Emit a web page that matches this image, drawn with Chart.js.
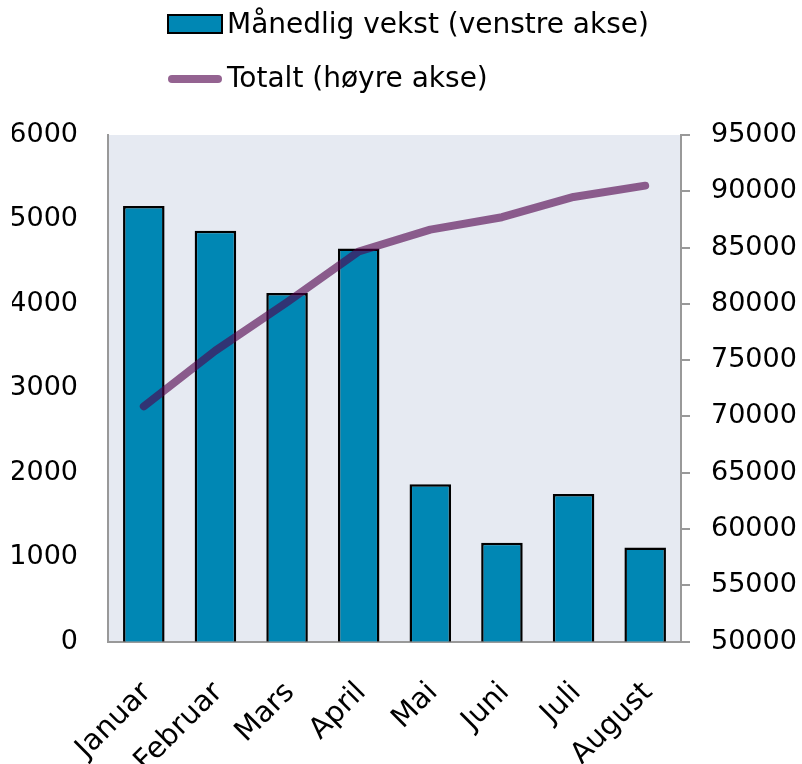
<!DOCTYPE html>
<html>
<head>
<meta charset="utf-8">
<script src="https://cdn.jsdelivr.net/npm/chart.js@4"></script>
<style>
  html, body { margin: 0; background: #fff; overflow: hidden; }
  #wrap { width: 802px; height: 813px; }
</style>
</head>
<body>
<div id="wrap"><canvas id="myChart"></canvas></div>
<script>
var months = ["Januar", "Februar", "Mars", "April", "Mai", "Juni", "Juli", "August"];
var vekst = [5160, 4865, 4130, 4655, 1865, 1170, 1750, 1115];          // venstre akse
var totalt = [70900, 75850, 80150, 84650, 86600, 87700, 89500, 90500];  // høyre akse
var vekstLabel = "Månedlig vekst (venstre akse)";
var totaltLabel = "Totalt (høyre akse)";
var leftTicks = [0, 6000, 1000];
var rightTicks = [50000, 95000, 5000];

var FONT = '"DejaVu Sans", Verdana, sans-serif';
var BAR = "#0087b4";
var LINE = "rgba(80,0,75,0.61)";

// plot background
var plotBg = {
  id: "plotBg",
  beforeDraw: function(chart) {
    var a = chart.chartArea, ctx = chart.ctx;
    ctx.save();
    ctx.fillStyle = "#e6eaf2";
    ctx.fillRect(a.left, a.top, a.right - a.left, a.bottom - a.top);
    ctx.restore();
  }
};

// legend stacked on two rows, left aligned
var legendRows = {
  id: "legendRows",
  afterDraw: function(chart) {
    var ctx = chart.ctx;
    ctx.save();
    ctx.font = "28px " + FONT;
    ctx.textBaseline = "middle";
    var x = 168, w = 54;
    // bar
    ctx.fillStyle = BAR;
    ctx.fillRect(x, 15, w, 18);
    ctx.strokeStyle = "#000";
    ctx.lineWidth = 2;
    ctx.strokeRect(x, 15, w, 18);
    ctx.fillStyle = "#000";
    ctx.fillText(chart.data.datasets[0].label, x + w + 5, 26);
    // line
    ctx.strokeStyle = LINE;
    ctx.lineWidth = 8;
    ctx.lineCap = "round";
    ctx.beginPath();
    ctx.moveTo(x + 4, 79);
    ctx.lineTo(x + w - 4, 79);
    ctx.stroke();
    ctx.fillText(chart.data.datasets[1].label, x + w + 5, 80);
    ctx.restore();
  }
};

function plain(v) { return String(v); }

var ctx = document.getElementById("myChart").getContext("2d");
var myChart = new Chart(ctx, {
  data: {
    labels: months,
    datasets: [
      {
        type: "bar",
        label: vekstLabel,
        data: vekst,
        yAxisID: "y",
        backgroundColor: BAR,
        borderColor: "#000",
        borderWidth: 2.5,
        categoryPercentage: 1,
        barPercentage: 0.58,
        order: 2
      },
      {
        type: "line",
        label: totaltLabel,
        data: totalt,
        yAxisID: "y2",
        borderColor: LINE,
        borderWidth: 8,
        borderCapStyle: "round",
        borderJoinStyle: "round",
        pointRadius: 0,
        tension: 0,
        order: 1
      }
    ]
  },
  options: {
    responsive: true,
    maintainAspectRatio: false,
    animation: false,
    layout: { padding: { top: 135, left: 12, right: 4, bottom: 0 } },
    plugins: {
      legend: { display: false },
      tooltip: { enabled: false }
    },
    scales: {
      x: {
        grid: { display: false, drawTicks: false },
        border: { display: true, color: "#999", width: 2 },
        ticks: {
          color: "#000",
          font: { family: FONT, size: 29 },
          maxRotation: 45,
          minRotation: 45,
          padding: 34,
          labelOffset: 3
        },
        // rotated labels may hang past the axis ends, as in the original
        afterFit: function(scale) {
          scale.paddingLeft = 0;
          scale.paddingRight = 0;
        }
      },
      y: {
        position: "left",
        min: leftTicks[0],
        max: leftTicks[1],
        grid: { display: false, drawTicks: false },
        border: { display: true, color: "#999", width: 2 },
        ticks: {
          stepSize: leftTicks[2],
          color: "#000",
          padding: 30,
          font: { family: FONT, size: 27 },
          callback: plain
        },
        afterFit: function(scale) { scale.width = 96; }
      },
      y2: {
        position: "right",
        min: rightTicks[0],
        max: rightTicks[1],
        grid: { display: true, drawOnChartArea: false, color: "#999", lineWidth: 2, tickLength: 9 },
        border: { display: true, color: "#999", width: 2 },
        ticks: {
          stepSize: rightTicks[2],
          color: "#000",
          padding: 21,
          font: { family: FONT, size: 27 },
          callback: plain
        },
        afterFit: function(scale) { scale.width = 117; }
      }
    }
  },
  plugins: [plotBg, legendRows]
});
</script>
</body>
</html>
